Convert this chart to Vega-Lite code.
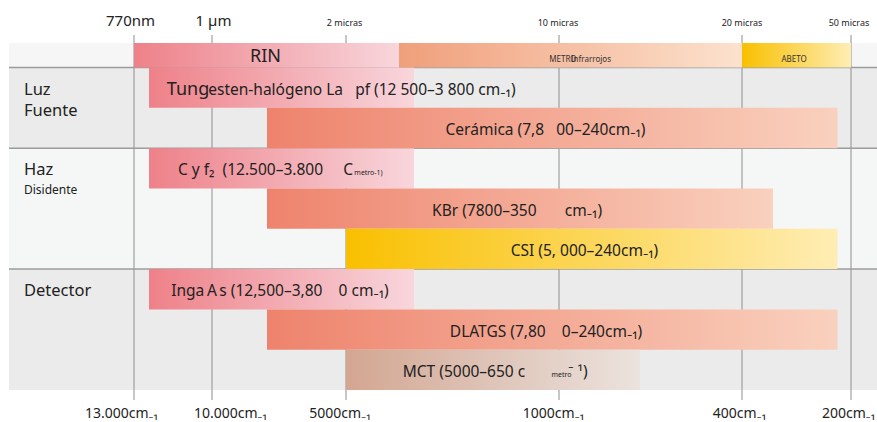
{
  "$schema": "https://vega.github.io/schema/vega-lite/v6.json",
  "width": 877,
  "height": 422,
  "autosize": "none",
  "padding": 0,
  "background": "white",
  "config": {"view": {"stroke": null}, "font": "Noto Sans"},
  "datasets": {
    "bg": [
      {"row": "band", "top": 0, "bottom": 1},
      {"row": "Luz Fuente", "top": 1, "bottom": 3},
      {"row": "Haz Disidente", "top": 3, "bottom": 6},
      {"row": "Detector", "top": 6, "bottom": 9}
    ],
    "ticks": [{"wn": 13000}, {"wn": 10000}, {"wn": 5000}, {"wn": 1000}, {"wn": 400}, {"wn": 200}],
    "dividers": [{"level": 1}, {"level": 3}, {"level": 6}],
    "bars": [
      {"name": "RIN", "group": "NIR", "kind": "region", "from": 13000, "to": 4000, "lane": 0, "lane_end": 1},
      {"name": "Infrarrojo medio", "group": "MIR", "kind": "region", "from": 4000, "to": 400, "lane": 0, "lane_end": 1},
      {"name": "Infrarrojo lejano", "group": "FIR", "kind": "region", "from": 400, "to": 200, "lane": 0, "lane_end": 1},
      {"name": "Lámpara de tungsteno-halógeno", "group": "NIR", "kind": "component", "from": 12500, "to": 3800, "lane": 1, "lane_end": 2},
      {"name": "Cerámica", "group": "MIR", "kind": "component", "from": 7800, "to": 240, "lane": 2, "lane_end": 3},
      {"name": "CaF2", "group": "NIR", "kind": "component", "from": 12500, "to": 3800, "lane": 3, "lane_end": 4},
      {"name": "KBr", "group": "MIR", "kind": "component", "from": 7800, "to": 350, "lane": 4, "lane_end": 5},
      {"name": "CsI", "group": "FIR", "kind": "component", "from": 5000, "to": 240, "lane": 5, "lane_end": 6},
      {"name": "InGaAs", "group": "NIR", "kind": "component", "from": 12500, "to": 3800, "lane": 6, "lane_end": 7},
      {"name": "DLATGS", "group": "MIR", "kind": "component", "from": 7800, "to": 240, "lane": 7, "lane_end": 8},
      {"name": "MCT", "group": "MCT", "kind": "component", "from": 5000, "to": 650, "lane": 8, "lane_end": 9}
    ],
    "labels": [
      {"text": "RIN", "wn": 7860, "level": 0.5, "role": "big"},
      {"text": "METRO", "wn": 983, "level": 0.5, "role": "region"},
      {"text": "Infrarrojos", "wn": 862, "level": 0.5, "role": "region"},
      {"text": "ABETO", "wn": 314, "level": 0.5, "role": "region"},
      {"text": "Tung", "wn": 10950, "level": 1.5, "role": "big"},
      {"text": "esten-halógeno La\u00a0\u00a0\u00a0pf (12 500–3 800 cm\u208b\u2081)", "wn": 4700, "level": 1.5, "role": "label"},
      {"text": "Cerámica (7,8\u00a0\u00a0\u00a000–240cm\u208b\u2081)", "wn": 1260, "level": 2.5, "role": "label"},
      {"text": "C y f\u2082\u00a0\u00a0(12.500–3.800\u00a0\u00a0\u00a0\u00a0\u00a0C", "wn": 7860, "level": 3.5, "role": "label"},
      {"text": "metro-1)", "wn": 4575, "level": 3.5, "role": "tiny"},
      {"text": "KBr (7800–350\u00a0\u00a0\u00a0\u00a0\u00a0\u00a0\u00a0cm\u208b\u2081)", "wn": 1810, "level": 4.5, "role": "label"},
      {"text": "CSI (5, 000–240cm\u208b\u2081)", "wn": 890, "level": 5.5, "role": "label"},
      {"text": "Inga\u2009A\u2009s (12,500–3,80\u00a0\u00a0\u00a0\u00a00 cm\u208b\u2081)", "wn": 7340, "level": 6.5, "role": "label"},
      {"text": "DLATGS (7,80\u00a0\u00a0\u00a0\u00a00–240cm\u208b\u2081)", "wn": 1250, "level": 7.5, "role": "label"},
      {"text": "MCT (5000–650 c", "wn": 2835, "level": 8.5, "role": "label"},
      {"text": "metro", "wn": 989, "level": 8.5, "role": "tiny"},
      {"text": "\u207b \u00b9)", "wn": 918, "level": 8.5, "role": "label"},
      {"text": "Luz", "wn": 19000, "level": 1.5, "role": "row"},
      {"text": "Fuente", "wn": 19000, "level": 2.03, "role": "row"},
      {"text": "Haz", "wn": 19000, "level": 3.5, "role": "row"},
      {"text": "Disidente", "wn": 19000, "level": 4.0, "role": "rowsub"},
      {"text": "Detector", "wn": 19000, "level": 6.5, "role": "row"},
      {"text": "770nm", "wn": 13190, "level": -2, "role": "top"},
      {"text": "1 µm", "wn": 9940, "level": -2, "role": "top"},
      {"text": "2 micras", "wn": 5050, "level": -2, "role": "topsmall"},
      {"text": "10 micras", "wn": 1020, "level": -2, "role": "topsmall"},
      {"text": "20 micras", "wn": 400, "level": -2, "role": "topsmall"},
      {"text": "50 micras", "wn": 206, "level": -2, "role": "topsmall"},
      {"text": "13.000cm\u208b\u2081", "wn": 13680, "level": 11, "role": "bottom"},
      {"text": "10.000cm\u208b\u2081", "wn": 9260, "level": 11, "role": "bottom"},
      {"text": "5000cm\u208b\u2081", "wn": 5210, "level": 11, "role": "bottom"},
      {"text": "1000cm\u208b\u2081", "wn": 1105, "level": 11, "role": "bottom"},
      {"text": "400cm\u208b\u2081", "wn": 406, "level": 11, "role": "bottom"},
      {"text": "200cm\u208b\u2081", "wn": 207, "level": 11, "role": "bottom"}
    ]
  },
  "layer": [
    {
      "data": {"name": "bg"},
      "mark": {"type": "rect", "strokeWidth": 0},
      "encoding": {
        "x": {"datum": 20000, "type": "quantitative", "axis": null, "scale": {"type": "linear", "domain": [20000, 19000, 13000, 12500, 10000, 7800, 5000, 4000, 3800, 1000, 650, 400, 350, 240, 200, 180], "range": [9, 24, 134, 149, 212, 267, 346, 399, 414, 559, 640, 742, 773, 837.5, 851, 877], "zero": false, "nice": false}},
        "x2": {"datum": 180},
        "y": {"field": "top", "type": "quantitative", "axis": null, "scale": {"type": "linear", "domain": [-3, -2, -1, 0, 1, 9, 10, 11, 12], "range": [0, 26, 35, 43, 67.5, 390, 400, 418, 422], "zero": false, "nice": false}},
        "y2": {"field": "bottom"},
        "color": {"field": "row", "type": "nominal", "legend": null, "scale": {"domain": ["band", "Luz Fuente", "Haz Disidente", "Detector"], "range": ["#f5f6f5", "#eaebea", "#f5f7f6", "#eaebea"]}}
      }
    },
    {
      "data": {"name": "ticks"},
      "mark": {"type": "rule", "stroke": "#8e8e8e", "strokeWidth": 1},
      "encoding": {
        "x": {"field": "wn", "type": "quantitative", "axis": null, "scale": {"type": "linear", "domain": [20000, 19000, 13000, 12500, 10000, 7800, 5000, 4000, 3800, 1000, 650, 400, 350, 240, 200, 180], "range": [9, 24, 134, 149, 212, 267, 346, 399, 414, 559, 640, 742, 773, 837.5, 851, 877], "zero": false, "nice": false}},
        "y": {"datum": -1, "type": "quantitative", "axis": null, "scale": {"type": "linear", "domain": [-3, -2, -1, 0, 1, 9, 10, 11, 12], "range": [0, 26, 35, 43, 67.5, 390, 400, 418, 422], "zero": false, "nice": false}},
        "y2": {"datum": 10}
      }
    },
    {
      "data": {"name": "dividers"},
      "mark": {"type": "rule", "stroke": "#9c9c9c", "strokeWidth": 1.5},
      "encoding": {
        "x": {"datum": 20000, "type": "quantitative", "axis": null, "scale": {"type": "linear", "domain": [20000, 19000, 13000, 12500, 10000, 7800, 5000, 4000, 3800, 1000, 650, 400, 350, 240, 200, 180], "range": [9, 24, 134, 149, 212, 267, 346, 399, 414, 559, 640, 742, 773, 837.5, 851, 877], "zero": false, "nice": false}},
        "x2": {"datum": 180},
        "y": {"field": "level", "type": "quantitative", "axis": null, "scale": {"type": "linear", "domain": [-3, -2, -1, 0, 1, 9, 10, 11, 12], "range": [0, 26, 35, 43, 67.5, 390, 400, 418, 422], "zero": false, "nice": false}}
      }
    },
    {
      "data": {"name": "bars"},
      "transform": [{"filter": "datum.group === 'NIR'"}],
      "mark": {"type": "rect", "strokeWidth": 0, "fill": {"gradient": "linear", "x1": 0, "y1": 0, "x2": 1, "y2": 0, "stops": [{"offset": 0, "color": "#ee8189"}, {"offset": 1, "color": "#f8d6dc"}]}},
      "encoding": {
        "x": {"field": "from", "type": "quantitative", "axis": null, "scale": {"type": "linear", "domain": [20000, 19000, 13000, 12500, 10000, 7800, 5000, 4000, 3800, 1000, 650, 400, 350, 240, 200, 180], "range": [9, 24, 134, 149, 212, 267, 346, 399, 414, 559, 640, 742, 773, 837.5, 851, 877], "zero": false, "nice": false}},
        "x2": {"field": "to"},
        "y": {"field": "lane", "type": "quantitative", "axis": null, "scale": {"type": "linear", "domain": [-3, -2, -1, 0, 1, 9, 10, 11, 12], "range": [0, 26, 35, 43, 67.5, 390, 400, 418, 422], "zero": false, "nice": false}},
        "y2": {"field": "lane_end"}
      }
    },
    {
      "data": {"name": "bars"},
      "transform": [{"filter": "datum.group === 'MIR' && datum.kind === 'region'"}],
      "mark": {"type": "rect", "strokeWidth": 0, "fill": {"gradient": "linear", "x1": 0, "y1": 0, "x2": 1, "y2": 0, "stops": [{"offset": 0, "color": "#f09f7b"}, {"offset": 1, "color": "#fce2ce"}]}},
      "encoding": {
        "x": {"field": "from", "type": "quantitative", "axis": null, "scale": {"type": "linear", "domain": [20000, 19000, 13000, 12500, 10000, 7800, 5000, 4000, 3800, 1000, 650, 400, 350, 240, 200, 180], "range": [9, 24, 134, 149, 212, 267, 346, 399, 414, 559, 640, 742, 773, 837.5, 851, 877], "zero": false, "nice": false}},
        "x2": {"field": "to"},
        "y": {"field": "lane", "type": "quantitative", "axis": null, "scale": {"type": "linear", "domain": [-3, -2, -1, 0, 1, 9, 10, 11, 12], "range": [0, 26, 35, 43, 67.5, 390, 400, 418, 422], "zero": false, "nice": false}},
        "y2": {"field": "lane_end"}
      }
    },
    {
      "data": {"name": "bars"},
      "transform": [{"filter": "datum.group === 'MIR' && datum.kind === 'component'"}],
      "mark": {"type": "rect", "strokeWidth": 0, "fill": {"gradient": "linear", "x1": 0, "y1": 0, "x2": 1, "y2": 0, "stops": [{"offset": 0, "color": "#ee836d"}, {"offset": 1, "color": "#f9d1be"}]}},
      "encoding": {
        "x": {"field": "from", "type": "quantitative", "axis": null, "scale": {"type": "linear", "domain": [20000, 19000, 13000, 12500, 10000, 7800, 5000, 4000, 3800, 1000, 650, 400, 350, 240, 200, 180], "range": [9, 24, 134, 149, 212, 267, 346, 399, 414, 559, 640, 742, 773, 837.5, 851, 877], "zero": false, "nice": false}},
        "x2": {"field": "to"},
        "y": {"field": "lane", "type": "quantitative", "axis": null, "scale": {"type": "linear", "domain": [-3, -2, -1, 0, 1, 9, 10, 11, 12], "range": [0, 26, 35, 43, 67.5, 390, 400, 418, 422], "zero": false, "nice": false}},
        "y2": {"field": "lane_end"}
      }
    },
    {
      "data": {"name": "bars"},
      "transform": [{"filter": "datum.group === 'FIR'"}],
      "mark": {"type": "rect", "strokeWidth": 0, "fill": {"gradient": "linear", "x1": 0, "y1": 0, "x2": 1, "y2": 0, "stops": [{"offset": 0, "color": "#f9c000"}, {"offset": 1, "color": "#ffedb4"}]}},
      "encoding": {
        "x": {"field": "from", "type": "quantitative", "axis": null, "scale": {"type": "linear", "domain": [20000, 19000, 13000, 12500, 10000, 7800, 5000, 4000, 3800, 1000, 650, 400, 350, 240, 200, 180], "range": [9, 24, 134, 149, 212, 267, 346, 399, 414, 559, 640, 742, 773, 837.5, 851, 877], "zero": false, "nice": false}},
        "x2": {"field": "to"},
        "y": {"field": "lane", "type": "quantitative", "axis": null, "scale": {"type": "linear", "domain": [-3, -2, -1, 0, 1, 9, 10, 11, 12], "range": [0, 26, 35, 43, 67.5, 390, 400, 418, 422], "zero": false, "nice": false}},
        "y2": {"field": "lane_end"}
      }
    },
    {
      "data": {"name": "bars"},
      "transform": [{"filter": "datum.group === 'MCT'"}],
      "mark": {"type": "rect", "strokeWidth": 0, "fill": {"gradient": "linear", "x1": 0, "y1": 0, "x2": 1, "y2": 0, "stops": [{"offset": 0, "color": "#d3a692"}, {"offset": 1, "color": "#ebe3de"}]}},
      "encoding": {
        "x": {"field": "from", "type": "quantitative", "axis": null, "scale": {"type": "linear", "domain": [20000, 19000, 13000, 12500, 10000, 7800, 5000, 4000, 3800, 1000, 650, 400, 350, 240, 200, 180], "range": [9, 24, 134, 149, 212, 267, 346, 399, 414, 559, 640, 742, 773, 837.5, 851, 877], "zero": false, "nice": false}},
        "x2": {"field": "to"},
        "y": {"field": "lane", "type": "quantitative", "axis": null, "scale": {"type": "linear", "domain": [-3, -2, -1, 0, 1, 9, 10, 11, 12], "range": [0, 26, 35, 43, 67.5, 390, 400, 418, 422], "zero": false, "nice": false}},
        "y2": {"field": "lane_end"}
      }
    },
    {
      "data": {"name": "labels"},
      "transform": [{"filter": "datum.role === 'label'"}],
      "mark": {"type": "text", "fontSize": 15.5, "align": "center", "baseline": "middle", "dy": 2, "color": "#222222"},
      "encoding": {
        "x": {"field": "wn", "type": "quantitative", "axis": null, "scale": {"type": "linear", "domain": [20000, 19000, 13000, 12500, 10000, 7800, 5000, 4000, 3800, 1000, 650, 400, 350, 240, 200, 180], "range": [9, 24, 134, 149, 212, 267, 346, 399, 414, 559, 640, 742, 773, 837.5, 851, 877], "zero": false, "nice": false}},
        "y": {"field": "level", "type": "quantitative", "axis": null, "scale": {"type": "linear", "domain": [-3, -2, -1, 0, 1, 9, 10, 11, 12], "range": [0, 26, 35, 43, 67.5, 390, 400, 418, 422], "zero": false, "nice": false}},
        "text": {"field": "text"}
      }
    },
    {
      "data": {"name": "labels"},
      "transform": [{"filter": "datum.role === 'big'"}],
      "mark": {"type": "text", "fontSize": 18, "align": "center", "baseline": "middle", "dy": 2, "color": "#222222"},
      "encoding": {
        "x": {"field": "wn", "type": "quantitative", "axis": null, "scale": {"type": "linear", "domain": [20000, 19000, 13000, 12500, 10000, 7800, 5000, 4000, 3800, 1000, 650, 400, 350, 240, 200, 180], "range": [9, 24, 134, 149, 212, 267, 346, 399, 414, 559, 640, 742, 773, 837.5, 851, 877], "zero": false, "nice": false}},
        "y": {"field": "level", "type": "quantitative", "axis": null, "scale": {"type": "linear", "domain": [-3, -2, -1, 0, 1, 9, 10, 11, 12], "range": [0, 26, 35, 43, 67.5, 390, 400, 418, 422], "zero": false, "nice": false}},
        "text": {"field": "text"}
      }
    },
    {
      "data": {"name": "labels"},
      "transform": [{"filter": "datum.role === 'tiny'"}],
      "mark": {"type": "text", "fontSize": 7, "align": "center", "baseline": "middle", "dy": 5, "color": "#222222"},
      "encoding": {
        "x": {"field": "wn", "type": "quantitative", "axis": null, "scale": {"type": "linear", "domain": [20000, 19000, 13000, 12500, 10000, 7800, 5000, 4000, 3800, 1000, 650, 400, 350, 240, 200, 180], "range": [9, 24, 134, 149, 212, 267, 346, 399, 414, 559, 640, 742, 773, 837.5, 851, 877], "zero": false, "nice": false}},
        "y": {"field": "level", "type": "quantitative", "axis": null, "scale": {"type": "linear", "domain": [-3, -2, -1, 0, 1, 9, 10, 11, 12], "range": [0, 26, 35, 43, 67.5, 390, 400, 418, 422], "zero": false, "nice": false}},
        "text": {"field": "text"}
      }
    },
    {
      "data": {"name": "labels"},
      "transform": [{"filter": "datum.role === 'region'"}],
      "mark": {"type": "text", "fontSize": 8, "align": "center", "baseline": "middle", "dy": 5, "color": "#333333"},
      "encoding": {
        "x": {"field": "wn", "type": "quantitative", "axis": null, "scale": {"type": "linear", "domain": [20000, 19000, 13000, 12500, 10000, 7800, 5000, 4000, 3800, 1000, 650, 400, 350, 240, 200, 180], "range": [9, 24, 134, 149, 212, 267, 346, 399, 414, 559, 640, 742, 773, 837.5, 851, 877], "zero": false, "nice": false}},
        "y": {"field": "level", "type": "quantitative", "axis": null, "scale": {"type": "linear", "domain": [-3, -2, -1, 0, 1, 9, 10, 11, 12], "range": [0, 26, 35, 43, 67.5, 390, 400, 418, 422], "zero": false, "nice": false}},
        "text": {"field": "text"}
      }
    },
    {
      "data": {"name": "labels"},
      "transform": [{"filter": "datum.role === 'row'"}],
      "mark": {"type": "text", "fontSize": 16.5, "align": "left", "baseline": "middle", "dy": 2, "color": "#222222"},
      "encoding": {
        "x": {"field": "wn", "type": "quantitative", "axis": null, "scale": {"type": "linear", "domain": [20000, 19000, 13000, 12500, 10000, 7800, 5000, 4000, 3800, 1000, 650, 400, 350, 240, 200, 180], "range": [9, 24, 134, 149, 212, 267, 346, 399, 414, 559, 640, 742, 773, 837.5, 851, 877], "zero": false, "nice": false}},
        "y": {"field": "level", "type": "quantitative", "axis": null, "scale": {"type": "linear", "domain": [-3, -2, -1, 0, 1, 9, 10, 11, 12], "range": [0, 26, 35, 43, 67.5, 390, 400, 418, 422], "zero": false, "nice": false}},
        "text": {"field": "text"}
      }
    },
    {
      "data": {"name": "labels"},
      "transform": [{"filter": "datum.role === 'rowsub'"}],
      "mark": {"type": "text", "fontSize": 12, "align": "left", "baseline": "middle", "dy": 2, "color": "#222222"},
      "encoding": {
        "x": {"field": "wn", "type": "quantitative", "axis": null, "scale": {"type": "linear", "domain": [20000, 19000, 13000, 12500, 10000, 7800, 5000, 4000, 3800, 1000, 650, 400, 350, 240, 200, 180], "range": [9, 24, 134, 149, 212, 267, 346, 399, 414, 559, 640, 742, 773, 837.5, 851, 877], "zero": false, "nice": false}},
        "y": {"field": "level", "type": "quantitative", "axis": null, "scale": {"type": "linear", "domain": [-3, -2, -1, 0, 1, 9, 10, 11, 12], "range": [0, 26, 35, 43, 67.5, 390, 400, 418, 422], "zero": false, "nice": false}},
        "text": {"field": "text"}
      }
    },
    {
      "data": {"name": "labels"},
      "transform": [{"filter": "datum.role === 'top'"}],
      "mark": {"type": "text", "fontSize": 15, "align": "center", "baseline": "alphabetic", "color": "#222222"},
      "encoding": {
        "x": {"field": "wn", "type": "quantitative", "axis": null, "scale": {"type": "linear", "domain": [20000, 19000, 13000, 12500, 10000, 7800, 5000, 4000, 3800, 1000, 650, 400, 350, 240, 200, 180], "range": [9, 24, 134, 149, 212, 267, 346, 399, 414, 559, 640, 742, 773, 837.5, 851, 877], "zero": false, "nice": false}},
        "y": {"field": "level", "type": "quantitative", "axis": null, "scale": {"type": "linear", "domain": [-3, -2, -1, 0, 1, 9, 10, 11, 12], "range": [0, 26, 35, 43, 67.5, 390, 400, 418, 422], "zero": false, "nice": false}},
        "text": {"field": "text"}
      }
    },
    {
      "data": {"name": "labels"},
      "transform": [{"filter": "datum.role === 'topsmall'"}],
      "mark": {"type": "text", "fontSize": 9, "align": "center", "baseline": "alphabetic", "color": "#222222"},
      "encoding": {
        "x": {"field": "wn", "type": "quantitative", "axis": null, "scale": {"type": "linear", "domain": [20000, 19000, 13000, 12500, 10000, 7800, 5000, 4000, 3800, 1000, 650, 400, 350, 240, 200, 180], "range": [9, 24, 134, 149, 212, 267, 346, 399, 414, 559, 640, 742, 773, 837.5, 851, 877], "zero": false, "nice": false}},
        "y": {"field": "level", "type": "quantitative", "axis": null, "scale": {"type": "linear", "domain": [-3, -2, -1, 0, 1, 9, 10, 11, 12], "range": [0, 26, 35, 43, 67.5, 390, 400, 418, 422], "zero": false, "nice": false}},
        "text": {"field": "text"}
      }
    },
    {
      "data": {"name": "labels"},
      "transform": [{"filter": "datum.role === 'bottom'"}],
      "mark": {"type": "text", "fontSize": 14, "align": "center", "baseline": "alphabetic", "color": "#222222"},
      "encoding": {
        "x": {"field": "wn", "type": "quantitative", "axis": null, "scale": {"type": "linear", "domain": [20000, 19000, 13000, 12500, 10000, 7800, 5000, 4000, 3800, 1000, 650, 400, 350, 240, 200, 180], "range": [9, 24, 134, 149, 212, 267, 346, 399, 414, 559, 640, 742, 773, 837.5, 851, 877], "zero": false, "nice": false}},
        "y": {"field": "level", "type": "quantitative", "axis": null, "scale": {"type": "linear", "domain": [-3, -2, -1, 0, 1, 9, 10, 11, 12], "range": [0, 26, 35, 43, 67.5, 390, 400, 418, 422], "zero": false, "nice": false}},
        "text": {"field": "text"}
      }
    }
  ]
}
